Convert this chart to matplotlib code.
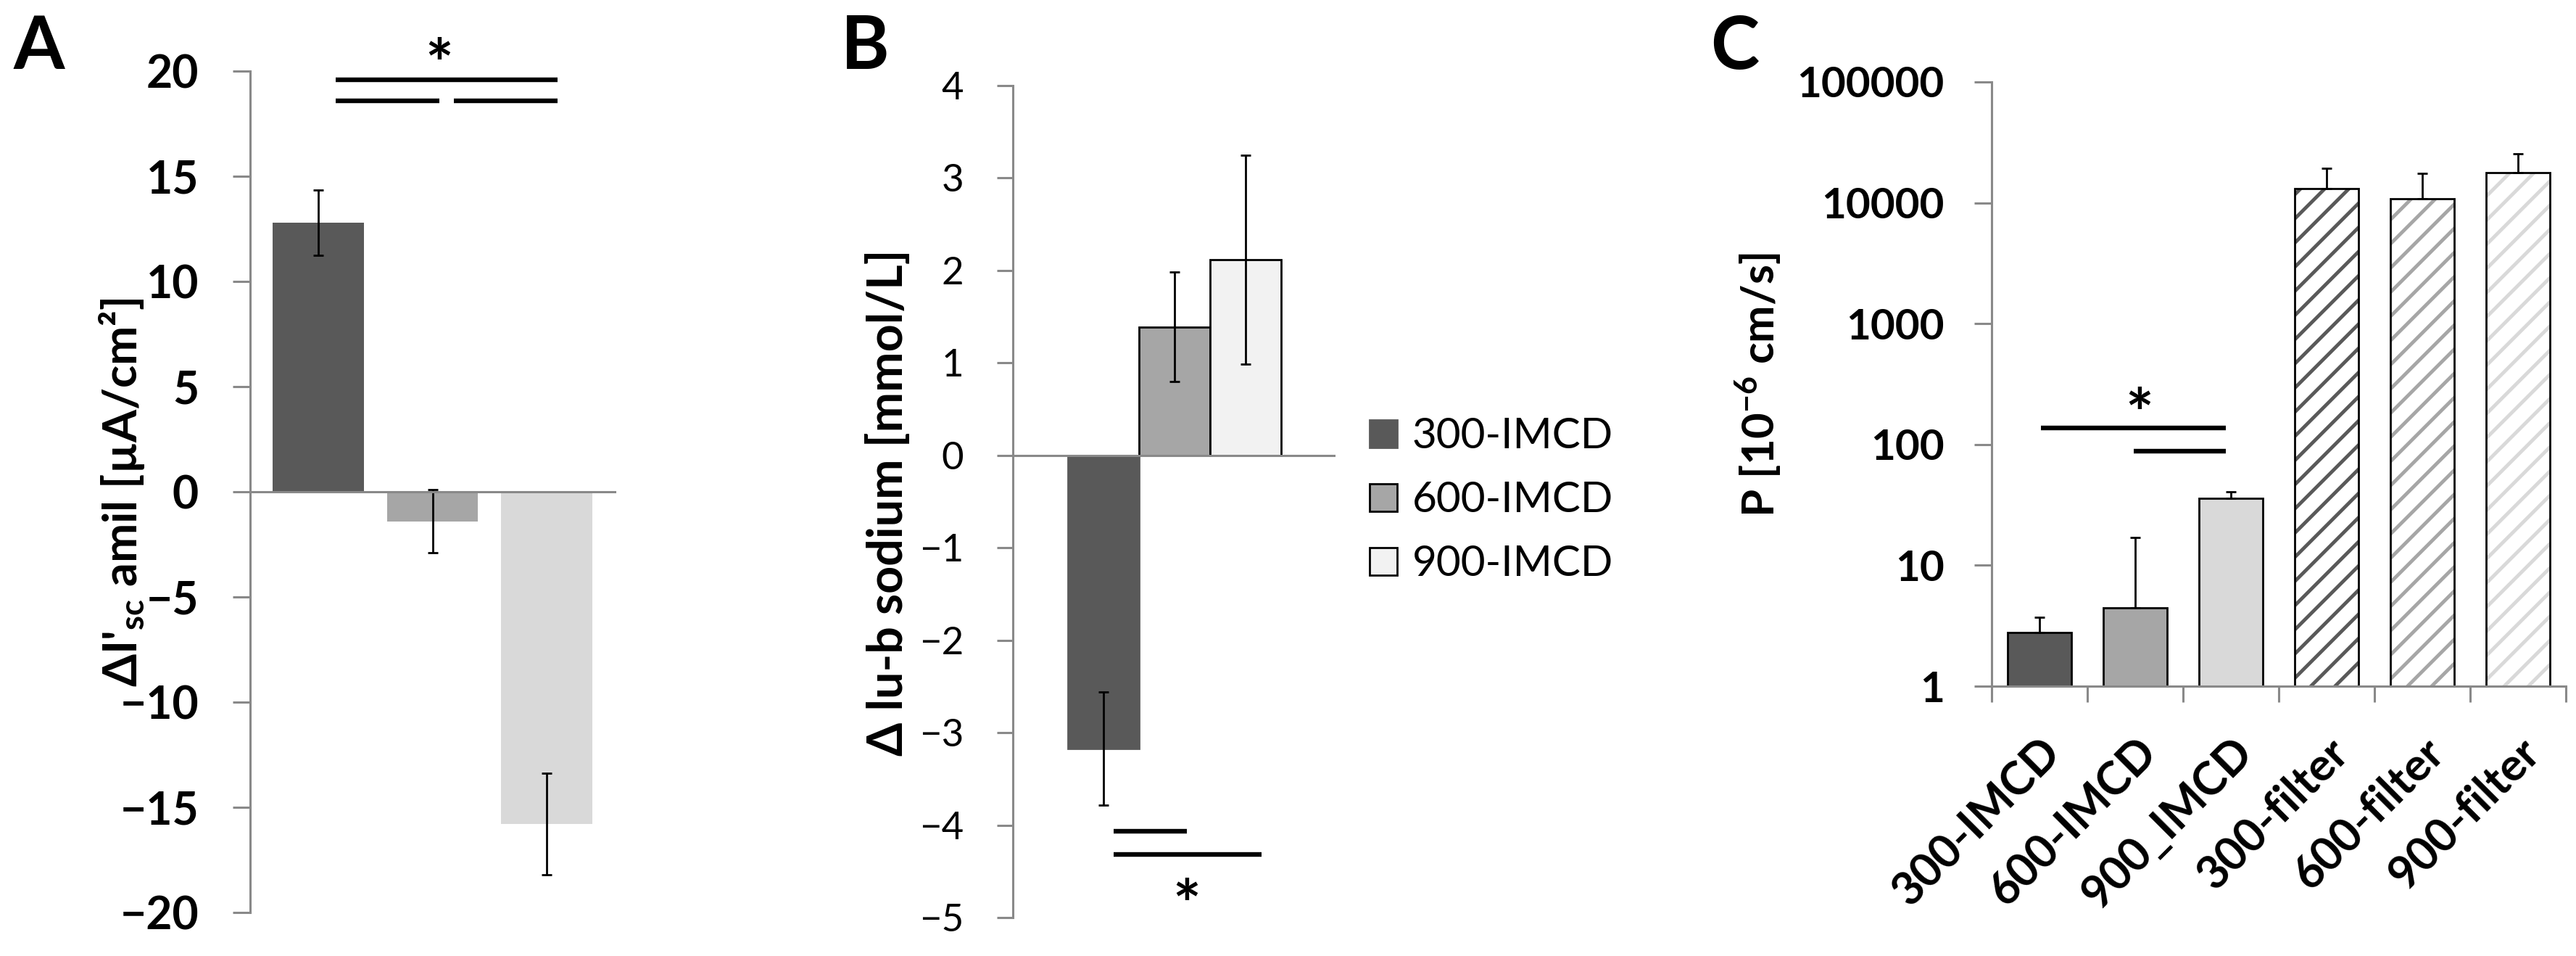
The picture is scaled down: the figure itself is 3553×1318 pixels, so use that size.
import matplotlib
matplotlib.use('Agg')
import matplotlib.pyplot as plt
from matplotlib.patches import Patch
from matplotlib.ticker import FixedLocator, FixedFormatter, NullFormatter
import matplotlib.transforms as mtransforms
import numpy as np

plt.rcParams['font.family'] = ['Lato', 'DejaVu Sans']
plt.rcParams['mathtext.fontset'] = 'custom'
plt.rcParams['mathtext.rm'] = 'Lato'
plt.rcParams['mathtext.bf'] = 'Lato:bold'
plt.rcParams['hatch.linewidth'] = 3.5

# ---------------- data ----------------
groups = ['300-IMCD', '600-IMCD', '900-IMCD']

a_values = [12.8, -1.4, -15.8]
a_errors = [1.55, 1.5, 2.42]
a_yticks = [-20, -15, -10, -5, 0, 5, 10, 15, 20]

b_values = [-3.17, 1.39, 2.12]
b_errors = [0.61, 0.59, 1.13]
b_yticks = [-5, -4, -3, -2, -1, 0, 1, 2, 3, 4]

c_categories = ['300-IMCD', '600-IMCD', '900_IMCD', '300-filter', '600-filter', '900-filter']
c_values = [2.78, 4.43, 35.9, 13200, 10800, 17700]
c_err_upper = [0.94, 12.5, 4.9, 6200, 6700, 7900]
c_yticks = [1, 10, 100, 1000, 10000, 100000]
c_ytick_labels = ['1', '10', '100', '1000', '10000', '100000']

# significance brackets (x0, x1, y) and star positions
a_sig_lines = [(0.15, 2.1, 19.6), (0.15, 1.06, 18.6), (1.19, 2.1, 18.6)]
a_star = (1.06, 21.0)
b_sig_lines = [(-0.85, 0.17, -4.07), (-0.85, 1.22, -4.32)]
b_star = (0.17, -4.71)
c_sig_lines = [(0.015, 1.948, 137), (0.985, 1.948, 88)]
c_star = (1.046, 237)

# ---------------- style ----------------
DARK, MID, LIGHT, LIGHTER = '#595959', '#a6a6a6', '#d9d9d9', '#f2f2f2'
AXC = '#898989'
W, H = 3553, 1318
fig = plt.figure(figsize=(W / 100, H / 100), dpi=100)
STAR_FS = 66


def rect(left, top, right, bottom):
    return [left / W, (H - bottom) / H, (right - left) / W, (bottom - top) / H]


def style_left(ax, length, pad, fs, weight):
    for s in ['top', 'right']:
        ax.spines[s].set_visible(False)
    for s in ['left', 'bottom']:
        ax.spines[s].set_color(AXC)
        ax.spines[s].set_linewidth(2.2)
    ax.tick_params(axis='y', direction='out', length=length, width=2.2, color=AXC,
                   pad=pad, labelsize=fs)
    for t in ax.get_yticklabels():
        t.set_fontweight(weight)


def star(ax, x, y):
    # baseline shifted down so that the glyph's ink is centred on (x, y)
    off = mtransforms.offset_copy(ax.transData, fig=fig, x=0,
                                  y=-0.57 * STAR_FS * 100 / 72, units='dots')
    ax.text(x, y, '*', ha='center', va='baseline', fontsize=STAR_FS,
            fontweight='bold', clip_on=False, transform=off)


def sig(ax, lines):
    for x0, x1, y in lines:
        ax.plot([x0, x1], [y, y], color='black', lw=4.6, solid_capstyle='butt',
                clip_on=False)


# ---------------- panel A ----------------
axA = fig.add_axes(rect(345, 98, 848, 1258))
xa = np.arange(len(a_values))
axA.bar(xa, a_values, width=0.8, color=[DARK, MID, LIGHT], linewidth=0)
axA.errorbar(xa, a_values, yerr=a_errors, fmt='none', ecolor='black',
             elinewidth=2, capsize=5, capthick=2)
axA.set_xlim(-0.6, 2.6)
axA.set_ylim(-20, 20)
axA.set_yticks(a_yticks)
axA.spines['bottom'].set_position(('data', 0))
axA.set_xticks([])
style_left(axA, 17, 34, 45, 'bold')
sig(axA, a_sig_lines)
star(axA, *a_star)

# ---------------- panel B ----------------
axB = fig.add_axes(rect(1397, 118, 1840, 1265))
xb = np.arange(len(b_values)) - 1
b_colors = [DARK, MID, LIGHTER]
b_edges = [DARK, 'black', 'black']
axB.bar(xb, b_values, width=1.0, color=b_colors, edgecolor=b_edges, linewidth=2)
axB.errorbar(xb, b_values, yerr=b_errors, fmt='none', ecolor='black',
             elinewidth=2, capsize=5, capthick=2)
axB.set_xlim(-2.27, 2.24)
axB.set_ylim(-5, 4)
axB.set_yticks(b_yticks)
axB.spines['bottom'].set_position(('data', 0))
axB.set_xticks([])
style_left(axB, 16, 33, 38, 'normal')
sig(axB, b_sig_lines)
star(axB, *b_star)

handles = [Patch(facecolor=c, edgecolor=e, linewidth=2) for c, e in zip(b_colors, b_edges)]
fig.legend(handles, groups, loc='center left', bbox_to_anchor=(1889 / W, 1 - 690 / H),
           frameon=False, fontsize=42, handlelength=0.65, handleheight=0.63,
           handletextpad=0.36, labelspacing=0.6, borderpad=0, borderaxespad=0)

# ---------------- panel C ----------------
axC = fig.add_axes(rect(2747, 113, 3539, 946))
xc = np.arange(len(c_values))
imcd_colors = [DARK, MID, LIGHT]
n_imcd = 3
axC.bar(xc[:n_imcd], c_values[:n_imcd], width=0.674, color=imcd_colors,
        edgecolor='black', linewidth=2)
axC.bar(xc[n_imcd:], c_values[n_imcd:], width=0.674, color='white',
        edgecolor=imcd_colors, linewidth=0, hatch='/')
axC.bar(xc[n_imcd:], c_values[n_imcd:], width=0.674, fill=False,
        edgecolor='black', linewidth=2)
axC.errorbar(xc, c_values, yerr=[np.zeros(len(c_values)), c_err_upper], fmt='none',
             ecolor='black', elinewidth=2, capsize=5, capthick=2)
axC.set_yscale('log')
axC.set_ylim(1, 100000)
axC.set_xlim(-0.5, len(c_values) - 0.5)
axC.yaxis.set_major_locator(FixedLocator(c_yticks))
axC.yaxis.set_major_formatter(FixedFormatter(c_ytick_labels))
axC.yaxis.set_minor_locator(FixedLocator([]))
axC.yaxis.set_minor_formatter(NullFormatter())
style_left(axC, 17, 30, 42, 'bold')
axC.set_xticks(xc)
axC.set_xticklabels(c_categories, rotation=45, ha='right', va='top',
                    rotation_mode='anchor', fontsize=45, fontweight='bold')
axC.set_xticks(np.arange(len(c_values) + 1) - 0.5, minor=True)
axC.tick_params(axis='x', which='major', length=0, pad=44)
axC.tick_params(axis='x', which='minor', length=16, width=2.2, color=AXC, direction='out')
sig(axC, c_sig_lines)
star(axC, *c_star)

# ---------------- labels ----------------
ylabels = [
    ("ΔI'$_{\\mathbf{sc}}$ amil [µA/cm²]", 168, 679, 536),
    ('Δ lu-b sodium [mmol/L]', 1226, 693, 698),
    ('P [10$^{\\mathbf{-6}}$ cm/s]', 2425, 531, 365),
]
ytexts = []
for s, cx, cy, length in ylabels:
    t = fig.text(cx / W, 1 - cy / H, s, rotation=90, ha='center', va='center',
                 fontsize=46, fontweight='bold')
    ytexts.append((t, length))

for lbl, x in [('A', 19), ('B', 1160), ('C', 2359)]:
    fig.text(x / W, 1 - 95 / H, lbl, ha='left', va='baseline', fontsize=73,
             fontweight='bold')

# scale the rotated axis titles to the measured lengths of the reference
for _ in range(2):
    fig.canvas.draw()
    r = fig.canvas.get_renderer()
    for t, length in ytexts:
        h = t.get_window_extent(r).height
        t.set_fontsize(t.get_fontsize() * length / h)

fig.savefig('out.png', dpi=100, facecolor='white')
